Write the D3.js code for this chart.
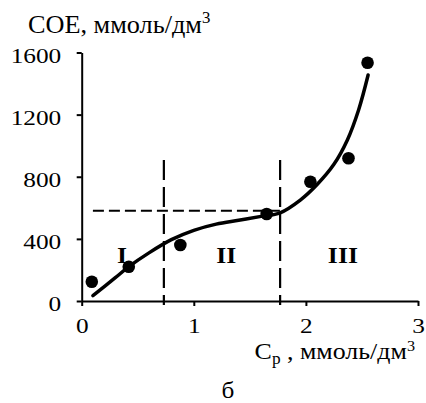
<!DOCTYPE html>
<html>
<head>
<meta charset="utf-8">
<script src="https://cdn.jsdelivr.net/npm/d3@7"></script>
<style>
  html, body { margin: 0; padding: 0; background: #fff; }
</style>
</head>
<body>
<svg id="chart" width="426" height="403"></svg>
<script>
// Measured points: Cp (mmol/dm3) vs СОЕ (mmol/dm3)
const pointX = [0.09, 0.42, 0.88, 1.65, 2.04, 2.38, 2.55];
const pointY = [124, 221, 361, 560, 768, 919, 1534];

// Smoothed trend curve
const curveX = [0.1, 0.3, 0.42, 0.6, 0.8, 1.0, 1.2, 1.4, 1.6, 1.77, 1.95, 2.1, 2.25, 2.37, 2.47, 2.555];
const curveY = [35, 150, 221, 310, 395, 455, 495, 520, 545, 568, 650, 750, 880, 1037, 1230, 1455];

// Zone boundaries and reference level
const zoneBounds = [0.733, 1.77];
const zoneTop = 908;
const refLevel = 581;
const refStart = 0.1;

// Zone labels
const zoneNames = ["I", "II", "III"];
const zoneLabelX = [0.36, 1.29, 2.33];
const zoneLabelY = 245;

const xTicks = [0, 1, 2, 3];
const yTicks = [0, 400, 800, 1200, 1600];

const SERIF = "'Liberation Serif', 'Times New Roman', Times, serif";
const STRETCH = 1.15; // glyphs are set slightly wide

const svg = d3.select("#chart").style("font-family", SERIF);
const x = d3.scaleLinear().domain([0, 3]).range([81.7, 418]);
const y = d3.scaleLinear().domain([0, 1600]).range([301, 52.5]);

// Axes
const xAxis = svg.append("g")
  .attr("transform", `translate(0,${y(0)})`)
  .call(d3.axisBottom(x).tickValues(xTicks).tickFormat(d3.format("d")).tickSize(5).tickSizeOuter(0));
const yAxis = svg.append("g")
  .attr("transform", `translate(${x(0)},0)`)
  .call(d3.axisLeft(y).tickValues(yTicks).tickFormat(d3.format("d")).tickSize(5).tickSizeOuter(0));

[xAxis, yAxis].forEach(g => {
  g.attr("font-family", null).attr("font-size", null);
  g.select(".domain").attr("stroke", "#000").attr("stroke-width", 2);
  g.selectAll(".tick line").attr("stroke", "#000").attr("stroke-width", 2);
  g.selectAll(".tick text").style("font-family", SERIF).style("font-size", "22px").attr("fill", "#000");
});
xAxis.selectAll(".tick text")
  .attr("x", 0).attr("y", 0).attr("dy", null)
  .attr("transform", `translate(0,32) scale(${STRETCH},1)`);
yAxis.selectAll(".tick text")
  .attr("x", 0).attr("y", 0).attr("dy", null)
  .attr("transform", `translate(-20.5,9.5) scale(${STRETCH},1)`);

// Dashed zone boundaries
svg.selectAll(".zone-line").data(zoneBounds).enter().append("line")
  .attr("class", "zone-line")
  .attr("x1", d => x(d)).attr("x2", d => x(d))
  .attr("y1", y(zoneTop)).attr("y2", y(0) + 4)
  .attr("stroke", "#000").attr("stroke-width", 2.2)
  .attr("stroke-dasharray", "20,7");

// Dashed reference level
svg.append("line")
  .attr("x1", x(refStart)).attr("x2", x(zoneBounds[1]) + 3)
  .attr("y1", y(refLevel)).attr("y2", y(refLevel))
  .attr("stroke", "#000").attr("stroke-width", 2.2)
  .attr("stroke-dasharray", "11,5");

// Trend curve
const line = d3.line().x(d => x(d[0])).y(d => y(d[1])).curve(d3.curveCatmullRom.alpha(0.5));
svg.append("path")
  .datum(curveX.map((v, i) => [v, curveY[i]]))
  .attr("d", line)
  .attr("fill", "none").attr("stroke", "#000").attr("stroke-width", 3.5)
  .attr("stroke-linecap", "round");

// Data points
svg.selectAll(".pt").data(pointX.map((v, i) => [v, pointY[i]])).enter().append("circle")
  .attr("class", "pt")
  .attr("cx", d => x(d[0])).attr("cy", d => y(d[1]))
  .attr("r", 6.3).attr("fill", "#000");

// Zone labels
svg.selectAll(".zone-label").data(zoneNames).enter().append("text")
  .attr("class", "zone-label")
  .attr("transform", (d, i) => `translate(${x(zoneLabelX[i])},${y(zoneLabelY)}) scale(1.12,1)`)
  .attr("text-anchor", "middle").style("font-size", "23px").style("font-weight", "bold")
  .style("font-family", SERIF)
  .text(d => d);

// Y-axis title
const yt = svg.append("text").attr("transform", "translate(28,33) scale(1.05,1)")
  .style("font-size", "25px").style("font-family", SERIF);
yt.append("tspan").text("СОЕ, ммоль/дм");
yt.append("tspan").style("font-size", "16px").attr("dy", -10).text("3");

// X-axis title
const xt = svg.append("text").attr("transform", "translate(415,359) scale(1.08,1)")
  .style("font-size", "24px").style("font-family", SERIF).attr("text-anchor", "end");
xt.append("tspan").text("С");
xt.append("tspan").style("font-size", "16px").attr("dy", 5).text("р");
xt.append("tspan").attr("dy", -5).text(" , ммоль/дм");
xt.append("tspan").style("font-size", "15px").attr("dy", -8).text("3");

// Panel letter
svg.append("text").attr("transform", "translate(228,398) scale(1.05,1)").style("font-size", "24px")
  .style("font-family", SERIF).attr("text-anchor", "middle").text("б");
</script>
</body>
</html>
